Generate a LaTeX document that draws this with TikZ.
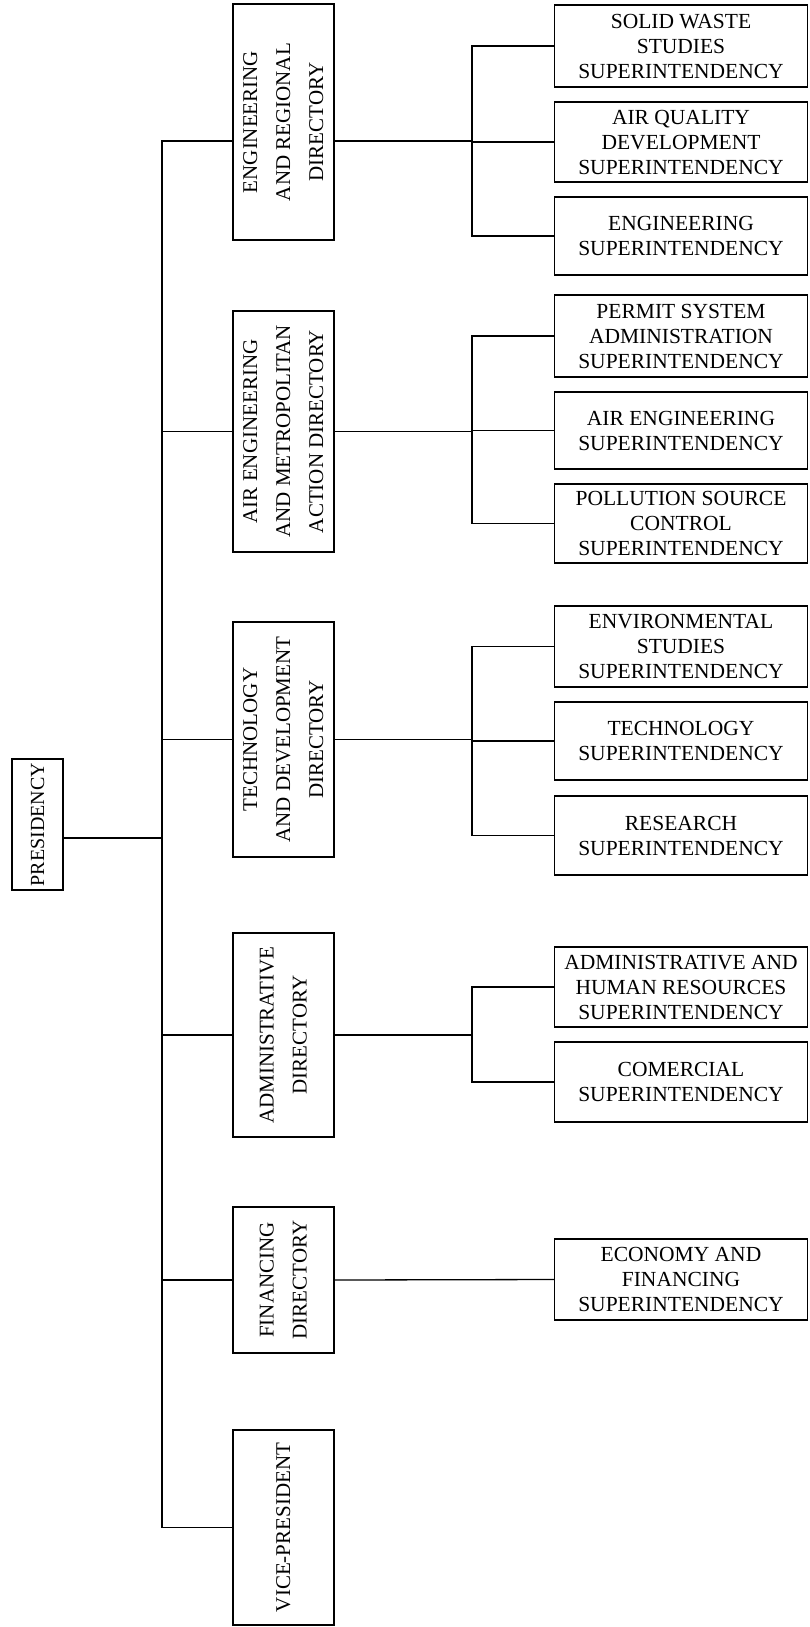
\documentclass[tikz,border=0pt]{standalone}
\usepackage{fontspec}
\setmainfont{Liberation Serif}
\usepackage{graphicx}
% text set vertically, read from bottom to top
\newcommand{\vlines}[1]{\rotatebox{90}{\begin{tabular}{@{}c@{}}#1\end{tabular}}}
\begin{document}
\begin{tikzpicture}[x=1pt, y=-1pt,
  box/.style={draw, line width=1.6pt, inner sep=0pt, outer sep=0pt},
  dirbox/.style={box, minimum width=101pt, font=\fontsize{21}{33}\selectfont},
  subbox/.style={box, minimum width=253pt, align=center, font=\fontsize{21.5}{25}\selectfont},
  link/.style={line width=1.3pt}]
\useasboundingbox[fill=white] (0,0) rectangle (809,1627);

% top of the organisation
\node[box, minimum width=51pt, minimum height=131pt, font=\fontsize{20}{24}\selectfont]
  (pres) at (37.5,824.5) {\rotatebox{90}{PRESIDENCY}};

% directories
\node[dirbox, minimum height=236pt] (d1) at (283.5,122)    {\vlines{ENGINEERING\\AND REGIONAL\\DIRECTORY}};
\node[dirbox, minimum height=241pt] (d2) at (283.5,431.5)  {\vlines{AIR ENGINEERING\\AND METROPOLITAN\\ACTION DIRECTORY}};
\node[dirbox, minimum height=235pt] (d3) at (283.5,739.5)  {\vlines{TECHNOLOGY\\AND DEVELOPMENT\\DIRECTORY}};
\node[dirbox, minimum height=204pt] (d4) at (283.5,1035)   {\vlines{ADMINISTRATIVE\\DIRECTORY}};
\node[dirbox, minimum height=146pt] (d5) at (283.5,1280)   {\vlines{FINANCING\\DIRECTORY}};
\node[dirbox, minimum height=195pt] (d6) at (283.5,1527.5) {\vlines{VICE-PRESIDENT}};

% superintendencies
\node[subbox, minimum height=82pt] (s11) at (681,46)    {SOLID WASTE\\STUDIES\\SUPERINTENDENCY};
\node[subbox, minimum height=80pt] (s12) at (681,142)   {AIR QUALITY\\DEVELOPMENT\\SUPERINTENDENCY};
\node[subbox, minimum height=78pt] (s13) at (681,236)   {ENGINEERING\\SUPERINTENDENCY};
\node[subbox, minimum height=82pt] (s21) at (681,336)   {PERMIT SYSTEM\\ADMINISTRATION\\SUPERINTENDENCY};
\node[subbox, minimum height=77pt] (s22) at (681,430.5) {AIR ENGINEERING\\SUPERINTENDENCY};
\node[subbox, minimum height=79pt] (s23) at (681,523.5) {POLLUTION SOURCE\\CONTROL\\SUPERINTENDENCY};
\node[subbox, minimum height=81pt] (s31) at (681,646.5) {ENVIRONMENTAL\\STUDIES\\SUPERINTENDENCY};
\node[subbox, minimum height=78pt] (s32) at (681,741)   {TECHNOLOGY\\SUPERINTENDENCY};
\node[subbox, minimum height=79pt] (s33) at (681,835.5) {RESEARCH\\SUPERINTENDENCY};
\node[subbox, minimum height=80pt] (s41) at (681,987)   {ADMINISTRATIVE AND\\HUMAN RESOURCES\\SUPERINTENDENCY};
\node[subbox, minimum height=80pt] (s42) at (681,1082)  {COMERCIAL\\SUPERINTENDENCY};
\node[subbox, minimum height=81pt] (s51) at (681,1279.5){ECONOMY AND\\FINANCING\\SUPERINTENDENCY};

% main trunk from the presidency
\coordinate (t) at (162,838);
\draw[link] (pres.east |- t) -- (t);
\draw[link] ([yshift=-19pt]d1.west) -| (t) |- (d6.west);
\foreach \d in {d2,d3,d4,d5} \draw[link] (t) |- (\d.west);

% branches to the superintendencies
\coordinate (sx) at (472,0);
\draw[link] ([yshift=-19pt]d1.east) -- ([yshift=-19pt]d1.east -| sx);
\draw[link] (s11.west) -| (s13.west -| sx) -- (s13.west);
\draw[link] (s12.west -| sx) -- (s12.west);

\draw[link] (d2.east) -- (d2.east -| sx);
\draw[link] (s21.west) -| (s23.west -| sx) -- (s23.west);
\draw[link] (s22.west -| sx) -- (s22.west);

\draw[link] (d3.east) -- (d3.east -| sx);
\draw[link] (s31.west) -| (s33.west -| sx) -- (s33.west);
\draw[link] (s32.west -| sx) -- (s32.west);

\draw[link] (d4.east) -- (d4.east -| sx);
\draw[link] (s41.west) -| (s42.west -| sx) -- (s42.west);

\draw[link] (d5.east) -- (s51.west);
\end{tikzpicture}
\end{document}
